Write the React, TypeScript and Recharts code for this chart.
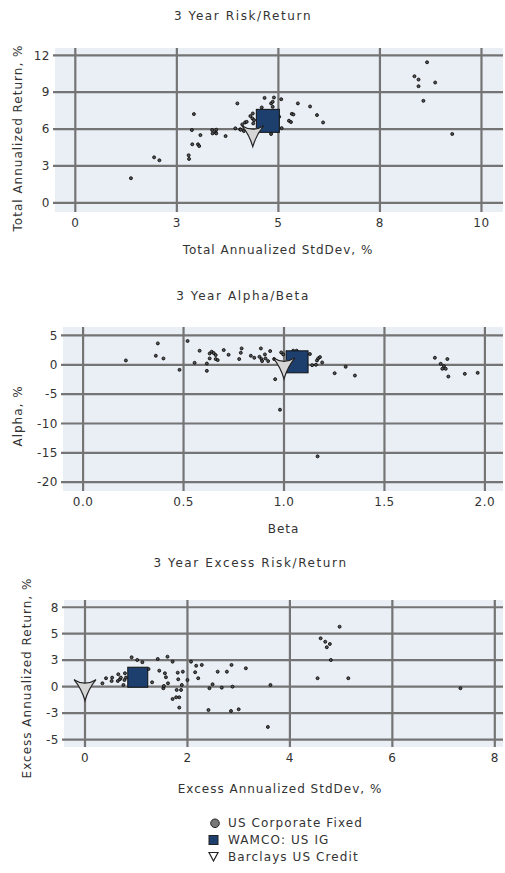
import React from "react";
import { ScatterChart, Scatter, XAxis, YAxis, CartesianGrid } from "recharts";

const FONT = '"DejaVu Sans", Verdana, sans-serif';
const GRID = "#747474";
const PLOT_BG = "#eaeef5";
const NAVY = "#1c3f6e";
const TEXT = "#333333";

// 3 Year Risk/Return — [annualized std dev %, annualized return %]
const riskReturnPeers: [number, number][] = [
  [1.37, 2.0], [1.94, 3.7], [2.07, 3.46], [2.79, 3.87], [2.8, 3.57],
  [2.87, 5.92], [2.88, 4.76], [2.92, 7.22], [3.02, 4.76], [3.05, 4.62],
  [3.08, 5.51], [3.37, 5.92], [3.38, 5.65], [3.45, 5.75], [3.47, 5.95],
  [3.47, 5.65], [3.7, 5.43], [3.94, 6.06], [3.99, 8.09], [4.06, 5.98],
  [4.07, 5.95], [4.11, 6.38], [4.15, 5.84], [4.18, 6.54], [4.22, 6.59],
  [4.31, 7.06], [4.37, 7.27], [4.36, 6.87], [4.4, 6.73], [4.38, 6.46],
  [4.59, 7.76], [4.66, 8.54], [4.82, 8.09], [4.86, 8.22], [4.89, 8.57],
  [4.86, 7.81], [4.82, 5.6], [5.07, 8.43], [5.02, 7.0], [5.08, 6.08],
  [5.48, 8.09], [5.26, 6.68], [5.31, 6.57], [5.33, 7.24], [5.37, 7.19],
  [5.78, 7.84], [5.95, 7.14], [6.1, 6.54], [8.35, 10.3], [8.45, 10.03],
  [8.45, 9.49], [8.66, 11.44], [8.57, 8.3], [8.86, 9.79], [9.28, 5.6],
];
const riskReturnFund: [number, number][] = [[4.74, 6.67]];
const riskReturnBench: [number, number][] = [[4.37, 5.71]];
const riskReturnXTicks = [0, 2.5, 5, 7.5, 10];
const riskReturnYTicks = [0, 3, 6, 9, 12];

// 3 Year Alpha/Beta — [beta, alpha %]
const alphaBetaPeers: [number, number][] = [
  [0.213, 0.74], [0.362, 1.54], [0.372, 3.65], [0.4, 1.08], [0.48, -0.86],
  [0.52, 4.06], [0.555, 0.34], [0.58, 2.4], [0.616, 0.22], [0.616, -1.03],
  [0.63, 1.08], [0.63, 1.93], [0.64, 2.23], [0.65, 2.0], [0.66, 1.66],
  [0.66, 0.98], [0.67, 0.8], [0.7, 2.51], [0.724, 1.71], [0.777, 0.98],
  [0.785, 2.05], [0.789, 2.79], [0.835, 1.54], [0.852, 1.2], [0.878, 1.37],
  [0.885, 2.79], [0.888, 0.98], [0.891, 0.63], [0.905, 1.77], [0.908, 1.08],
  [0.921, 0.63], [0.931, 2.34], [0.951, 0.98], [0.956, -2.45], [0.98, -7.65],
  [0.986, 2.11], [0.996, 1.77], [1.046, 2.4], [1.063, 2.4], [1.129, 1.83],
  [1.14, -0.06], [1.159, 0], [1.164, 0.74], [1.17, 1.08], [1.179, 1.31],
  [1.19, 0.4], [1.167, -15.6], [1.252, -1.43], [1.307, -0.34], [1.353, -1.83],
  [1.751, 1.2], [1.78, 0.17], [1.796, -0.22], [1.788, -0.68], [1.805, -0.68],
  [1.813, 0.98], [1.818, -2.0], [1.9, -1.54], [1.964, -1.37],
];
const alphaBetaFund: [number, number][] = [[1.065, 0.51]];
const alphaBetaBench: [number, number][] = [[1.0, 0]];
const alphaBetaXTicks = [0, 0.5, 1, 1.5, 2];
const alphaBetaYTicks = [-20, -15, -10, -5, 0, 5];

// 3 Year Excess Risk/Return — [excess std dev %, excess return %]
const excessPeers: [number, number][] = [
  [0.34, 0.34], [0.41, 0.85], [0.52, 0.57], [0.53, 0.91], [0.64, 0.57],
  [0.65, 1.25], [0.68, 0.74], [0.7, 0.91], [0.75, 0.17], [0.77, 0.67],
  [0.78, 1.35], [0.8, 0.91], [0.91, 2.96], [1.02, 2.69], [1.12, 2.46],
  [1.24, 1.78], [1.31, 0.44], [1.42, 2.79], [1.45, 1.61], [1.53, -0.16],
  [1.54, 0.07], [1.56, 1.35], [1.58, 0.95], [1.61, 3.02], [1.62, 0.34],
  [1.71, 2.52], [1.71, -1.24], [1.78, -1.07], [1.79, -0.33], [1.81, 1.41],
  [1.82, 0.74], [1.84, -1.07], [1.84, -2.11], [1.875, -0.33], [1.89, 0.17],
  [1.91, 1.51], [2.0, 0.67], [2.07, 2.52], [2.15, 1.45], [2.17, 2.11],
  [2.21, 0.85], [2.28, 2.19], [2.41, -2.35], [2.43, -0.16], [2.49, 0.24],
  [2.59, 1.51], [2.67, -0.1], [2.77, 1.51], [2.85, -2.45], [2.86, 2.19],
  [2.88, 0], [3.0, -2.28], [3.14, 1.85], [3.57, -4.06], [3.62, 0.17],
  [4.54, 0.85], [4.6, 4.87], [4.69, 4.53], [4.72, 3.97], [4.78, 4.3],
  [4.8, 2.69], [4.97, 6.04], [5.14, 0.85], [7.33, -0.16],
];
const excessFund: [number, number][] = [[1.03, 0.95]];
const excessBench: [number, number][] = [[0, 0]];
const excessXTicks = [0, 2, 4, 6, 8];
const excessYTicks = [-16 / 3, -8 / 3, 0, 8 / 3, 16 / 3, 8];

const legendItems = ["US Corporate Fixed", "WAMCO: US IG", "Barclays US Credit"];

const toPts = (a: [number, number][]) => a.map(([x, y]) => ({ x, y }));
const round = (v: number) => String(Math.round(v));

const PeerDot = (p: any) => (
  <circle cx={p.cx} cy={p.cy} r={1.5} fill="#555" stroke="#000" strokeWidth={0.8} />
);

const fundSquare = (size: number) => (p: any) =>
  (
    <rect
      x={p.cx - size / 2}
      y={p.cy - size / 2}
      width={size}
      height={size}
      fill={NAVY}
      stroke="#111"
      strokeWidth={1}
    />
  );

// concave down-pointing triangle, centred on its centroid
const STAR = "M-11,-7 Q0,0 11,-7 Q3.5,2 0,14 Q-3.5,2 -11,-7 Z";
const BenchStar = (p: any) => (
  <path
    transform={`translate(${p.cx},${p.cy})`}
    d={STAR}
    fill="#d6d6d6"
    stroke="#222"
    strokeWidth={1.2}
  />
);

function Txt({ x, y, children, rotate, spacing = 1 }: any) {
  return (
    <div
      style={{
        position: "absolute",
        left: x,
        top: y,
        transform: `translate(-50%, -50%)${rotate ? " rotate(-90deg)" : ""}`,
        whiteSpace: "nowrap",
        fontSize: 12,
        letterSpacing: spacing,
        color: TEXT,
        lineHeight: "14px",
      }}
    >
      {children}
    </div>
  );
}

function Panel(props: any) {
  const { top, height, marginTop, yWidth, peers, fund, bench, fundSize } = props;
  return (
    <div style={{ position: "absolute", left: 0, top }}>
      <ScatterChart
        width={505}
        height={height}
        margin={{ top: marginTop, right: 2, bottom: 0, left: 0 }}
      >
        <CartesianGrid
          stroke={GRID}
          strokeWidth={2.2}
          fill={PLOT_BG}
          fillOpacity={1}
          syncWithTicks
        />
        <XAxis
          type="number"
          dataKey="x"
          domain={props.xDomain}
          ticks={props.xTicks}
          tickFormatter={props.xFmt}
          allowDataOverflow
          interval={0}
          axisLine={false}
          tickLine={false}
          tickSize={2}
          tickMargin={4}
          height={20}
          tick={{ fontSize: 12, fill: TEXT, letterSpacing: 0.5 }}
        />
        <YAxis
          type="number"
          dataKey="y"
          domain={props.yDomain}
          ticks={props.yTicks}
          tickFormatter={props.yFmt}
          allowDataOverflow
          interval={0}
          axisLine={false}
          tickLine={{ stroke: GRID, strokeWidth: 2.2 }}
          tickSize={2}
          tickMargin={3}
          width={yWidth}
          tick={{ fontSize: 12, fill: TEXT, letterSpacing: 0.5 }}
        />
        <Scatter data={toPts(peers)} shape={PeerDot} isAnimationActive={false} />
        <Scatter data={toPts(fund)} shape={fundSquare(fundSize)} isAnimationActive={false} />
        <Scatter data={toPts(bench)} shape={BenchStar} isAnimationActive={false} />
      </ScatterChart>
    </div>
  );
}

export default function App() {
  return (
    <div
      style={{
        position: "absolute",
        left: 0,
        top: 0,
        width: 505,
        height: 873,
        background: "#fff",
        fontFamily: FONT,
      }}
    >
      <Panel
        top={0}
        height={232}
        marginTop={48}
        yWidth={55}
        peers={riskReturnPeers}
        fund={riskReturnFund}
        bench={riskReturnBench}
        fundSize={23}
        xDomain={[-0.5, 10.53]}
        yDomain={[-0.75, 12.6]}
        xTicks={riskReturnXTicks}
        yTicks={riskReturnYTicks}
        xFmt={round}
        yFmt={round}
      />
      <Txt x={243} y={15.5} spacing={1.6}>3 Year Risk/Return</Txt>
      <Txt x={278} y={250}>Total Annualized StdDev, %</Txt>
      <Txt x={18} y={137.5} rotate>Total Annualized Return, %</Txt>

      <Panel
        top={270}
        height={241}
        marginTop={57}
        yWidth={63}
        peers={alphaBetaPeers}
        fund={alphaBetaFund}
        bench={alphaBetaBench}
        fundSize={22}
        xDomain={[-0.1, 2.09]}
        yDomain={[-21.5, 6.44]}
        xTicks={alphaBetaXTicks}
        yTicks={alphaBetaYTicks}
        xFmt={(v: number) => v.toFixed(1)}
        yFmt={round}
      />
      <Txt x={243} y={295.5} spacing={1.6}>3 Year Alpha/Beta</Txt>
      <Txt x={283.5} y={529}>Beta</Txt>
      <Txt x={18} y={416} rotate>Alpha, %</Txt>

      <Panel
        top={550}
        height={217}
        marginTop={50}
        yWidth={64}
        peers={excessPeers}
        fund={excessFund}
        bench={excessBench}
        fundSize={20}
        xDomain={[-0.41, 8.16]}
        yDomain={[-6.08, 8.73]}
        xTicks={excessXTicks}
        yTicks={excessYTicks}
        xFmt={round}
        yFmt={round}
      />
      <Txt x={250.5} y={563} spacing={1.6}>3 Year Excess Risk/Return</Txt>
      <Txt x={280} y={788.5}>Excess Annualized StdDev, %</Txt>
      <Txt x={27} y={678} rotate>Excess Annualized Return, %</Txt>

      <svg
        width={16}
        height={50}
        style={{ position: "absolute", left: 205, top: 815 }}
      >
        <circle cx={10} cy={8.3} r={4.3} fill="#777" stroke="#222" strokeWidth={1} />
        <rect x={4} y={20.5} width={9} height={9} fill={NAVY} stroke="#222" strokeWidth={1} />
        <path d="M4,37.5 L13,37.5 L8.5,46 Z" fill="#fff" stroke="#222" strokeWidth={1.2} />
      </svg>
      {legendItems.map((label, i) => (
        <div
          key={label}
          style={{
            position: "absolute",
            left: 228,
            top: 823 + i * 16.8 - 7,
            fontSize: 12,
            lineHeight: "14px",
            letterSpacing: 1.1,
            color: TEXT,
            whiteSpace: "nowrap",
          }}
        >
          {label}
        </div>
      ))}
    </div>
  );
}
